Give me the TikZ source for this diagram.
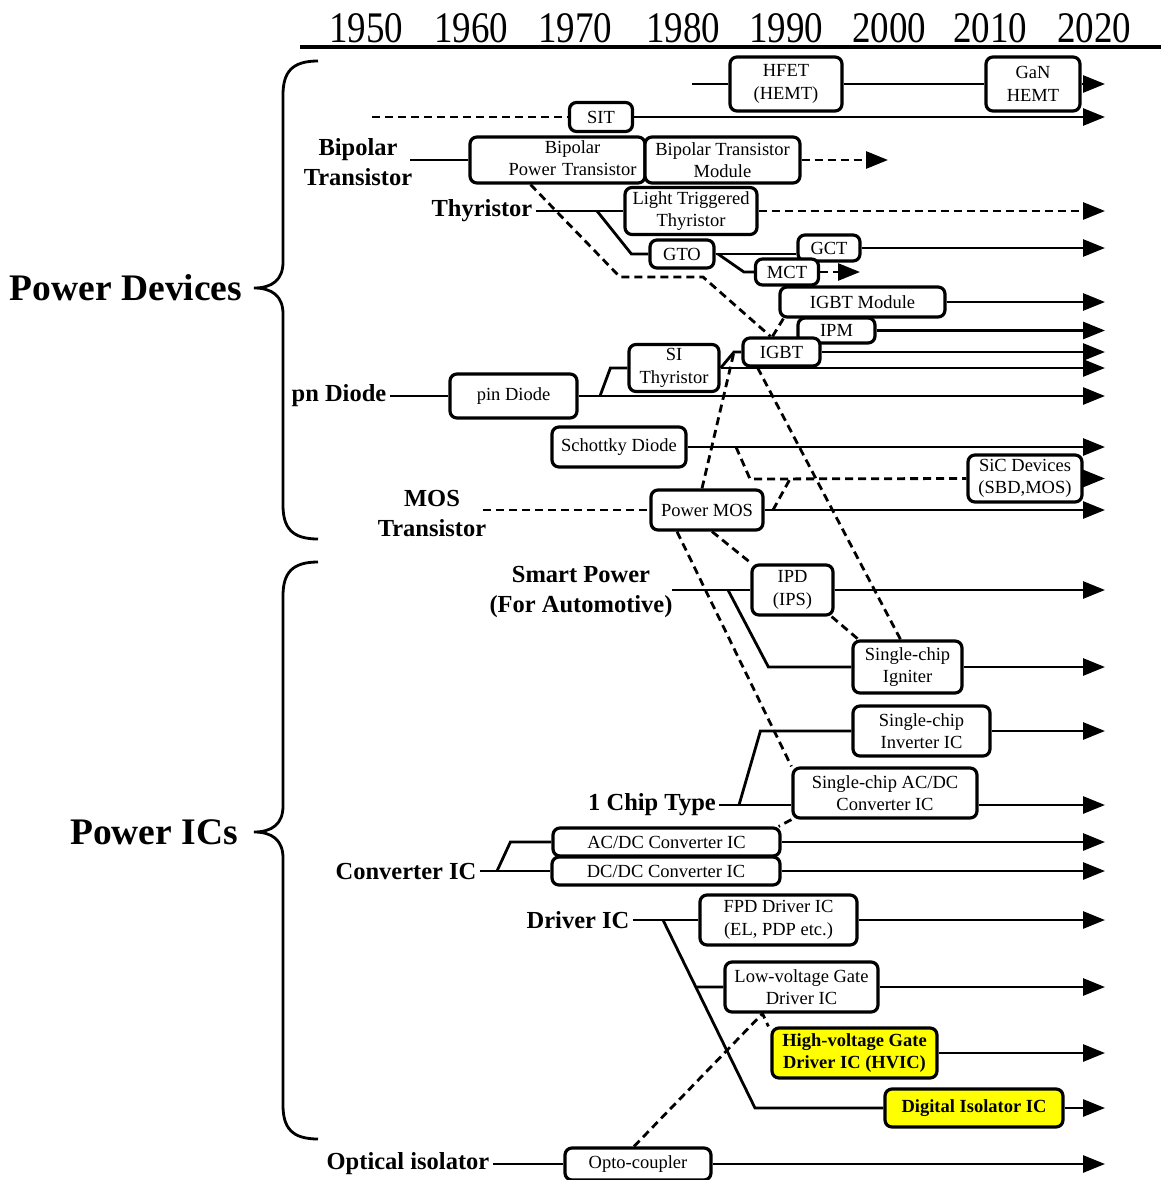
\documentclass[tikz,border=0pt]{standalone}
\usepackage{fontspec}
\setmainfont{Liberation Serif}
\usetikzlibrary{arrows.meta,backgrounds,calc}

\newlength{\du}
\setlength{\du}{1pt}
\definecolor{boxline}{rgb}{0.000000, 0.000000, 0.000000}
\definecolor{hilite}{rgb}{1.000000, 1.000000, 0.000000}

\tikzset{
  dev/.style={draw=boxline, line width=3.2\du, rounded corners=7\du, fill=white,
    align=center, inner sep=0pt, font=\fontsize{18.5}{22.5}\selectfont},
  hot/.style={dev, fill=hilite, font=\bfseries\fontsize{18.5}{22.5}\selectfont},
  grp/.style={align=center, font=\bfseries\fontsize{24.5}{30}\selectfont},
  big/.style={font=\bfseries\fontsize{37.5}{40}\selectfont},
  yr/.style={font=\fontsize{37}{40}\selectfont},
  link/.style={line width=2.8\du},
  hint/.style={line width=2.8\du, dash pattern=on 8\du off 5\du},
  trend/.style={link, -{Triangle[length=22pt,width=17pt]}},
  hinttrend/.style={hint, -{Triangle[length=22pt,width=17pt]}},
}

\begin{document}
\begin{tikzpicture}
\pgftransformxscale{1.000000}
\pgftransformyscale{-1.000000}
\useasboundingbox (0\du,0\du) rectangle (1161\du,1180\du);
\coordinate (tip) at (1105\du,0\du);
% time axis
\node[yr] (y1950) at (366\du,28\du) {\scalebox{1}[1.18]{1950}};
\node[yr] (y1960) at (471\du,28\du) {\scalebox{1}[1.18]{1960}};
\node[yr] (y1970) at (575\du,28\du) {\scalebox{1}[1.18]{1970}};
\node[yr] (y1980) at (683\du,28\du) {\scalebox{1}[1.18]{1980}};
\node[yr] (y1990) at (786\du,28\du) {\scalebox{1}[1.18]{1990}};
\node[yr] (y2000) at (889\du,28\du) {\scalebox{1}[1.18]{2000}};
\node[yr] (y2010) at (990\du,28\du) {\scalebox{1}[1.18]{2010}};
\node[yr] (y2020) at (1094\du,28\du) {\scalebox{1}[1.18]{2020}};
\draw[line width=4\du] (300\du,47\du) -- (1161\du,47\du);
% braces
\draw[link] (318\du,61\du) .. controls (292\du,61\du) and (283\du,72\du) .. (283\du,95\du) -- (283\du,262\du) .. controls (283\du,280\du) and (272\du,288\du) .. (254\du,288\du) .. controls (272\du,288\du) and (283\du,296\du) .. (283\du,314\du) -- (283\du,505\du) .. controls (283\du,528\du) and (292\du,539\du) .. (318\du,539\du);
\draw[link] (318\du,562\du) .. controls (292\du,562\du) and (283\du,573\du) .. (283\du,596\du) -- (283\du,806\du) .. controls (283\du,824\du) and (272\du,832\du) .. (254\du,832\du) .. controls (272\du,832\du) and (283\du,840\du) .. (283\du,858\du) -- (283\du,1105\du) .. controls (283\du,1128\du) and (292\du,1139\du) .. (318\du,1139\du);
\node[big] (pdev) at (126\du,288\du) {Power Devices};
\node[big] (pics) at (154\du,832\du) {Power ICs};
% group labels
\node[grp] (bip) at (358\du,162\du) {Bipolar\\Transistor};
\node[grp] (thy) at (482\du,211\du) {Thyristor};
\node[grp] (pn) at (339\du,396\du) {pn Diode};
\node[grp] (mos) at (432\du,514\du) {MOS\\Transistor};
\node[grp] (smart) at (581\du,592\du) {Smart Power\\(For Automotive)};
\node[grp] (chip) at (652\du,805\du) {1 Chip Type};
\node[grp] (conv) at (406\du,871\du) {Converter IC};
\node[grp] (drv) at (578\du,920\du) {Driver IC};
\node[grp] (opt) at (408\du,1164\du) {Optical isolator};
% devices
\node[dev, minimum width=112\du, minimum height=54\du] (hfet) at (786\du,84\du) {HFET\\(HEMT)};
\node[dev, minimum width=94\du, minimum height=54\du] (gan) at (1033\du,84\du) {GaN\\HEMT};
\node[dev, minimum width=63\du, minimum height=29\du] (sit) at (601\du,117\du) {SIT};
\node[dev, minimum width=175\du, minimum height=46\du, text width=158\du, align=right] (bpt) at (557.5\du,160\du) {\begin{tabular}{@{}c@{}}Bipolar\\Power Transistor\end{tabular}};
\node[dev, minimum width=155\du, minimum height=46\du] (btm) at (722.5\du,160\du) {Bipolar Transistor\\Module};
\node[dev, minimum width=132\du, minimum height=47\du] (ltt) at (691\du,211\du) {Light Triggered\\Thyristor};
\node[dev, minimum width=64\du, minimum height=28\du] (gto) at (682\du,254\du) {GTO};
\node[dev, minimum width=62\du, minimum height=26\du] (gct) at (829\du,248\du) {GCT};
\node[dev, minimum width=63\du, minimum height=26\du] (mct) at (787\du,272\du) {MCT};
\node[dev, minimum width=165\du, minimum height=30\du] (igbtm) at (862.5\du,302\du) {IGBT Module};
\node[dev, minimum width=77\du, minimum height=25\du] (ipm) at (836.5\du,330.5\du) {IPM};
\node[dev, minimum width=77\du, minimum height=28\du] (igbt) at (781.5\du,352\du) {IGBT};
\node[dev, minimum width=90\du, minimum height=47\du] (sith) at (674\du,368\du) {SI\\Thyristor};
\node[dev, minimum width=127\du, minimum height=44\du] (pin) at (513.5\du,396\du) {pin Diode};
\node[dev, minimum width=134\du, minimum height=40\du] (sbd) at (619\du,447\du) {Schottky Diode};
\node[dev, minimum width=114\du, minimum height=47\du] (sic) at (1025\du,478.5\du) {SiC Devices\\(SBD,MOS)};
\node[dev, minimum width=112\du, minimum height=40\du] (pmos) at (707\du,510\du) {Power MOS};
\node[dev, minimum width=81\du, minimum height=50\du] (ipd) at (792.5\du,590\du) {IPD\\(IPS)};
\node[dev, minimum width=109\du, minimum height=52\du] (ign) at (907.5\du,667\du) {Single-chip\\Igniter};
\node[dev, minimum width=137\du, minimum height=50\du] (inv) at (921.5\du,731\du) {Single-chip\\Inverter IC};
\node[dev, minimum width=184\du, minimum height=50\du] (scac) at (885\du,793\du) {Single-chip AC/DC\\Converter IC};
\node[dev, minimum width=227\du, minimum height=28\du] (acdc) at (666.5\du,842\du) {AC/DC Converter IC};
\node[dev, minimum width=228\du, minimum height=28\du] (dcdc) at (666\du,871\du) {DC/DC Converter IC};
\node[dev, minimum width=157\du, minimum height=50\du] (fpd) at (778.5\du,920\du) {FPD Driver IC\\(EL, PDP etc.)};
\node[dev, minimum width=153\du, minimum height=50\du] (lvgd) at (801.5\du,987\du) {Low-voltage Gate\\Driver IC};
\node[hot, minimum width=165\du, minimum height=50\du] (hvic) at (854.5\du,1053\du) {High-voltage Gate\\Driver IC (HVIC)};
\node[hot, minimum width=178\du, minimum height=38\du] (diso) at (974\du,1108\du) {Digital Isolator IC};
\node[dev, minimum width=146\du, minimum height=32\du] (opto) at (638\du,1164\du) {Opto-coupler};

\begin{pgfonlayer}{background}
% power devices
\coordinate (hfetin) at (692\du,84\du);
\draw[link] (hfetin) -- (hfet.west);
\draw[link] (hfet.east) -- (gan.west);
\draw[trend] (gan.east) -- (gan.east -| tip);
\coordinate (sitin) at (372\du,117\du);
\draw[hint] (sitin) -- (sit.west);
\draw[trend] (sit.east) -- (sit.east -| tip);
\coordinate (bipin) at (410\du,160\du);
\draw[link] (bipin) -- (bpt.west);
\coordinate (btmend) at (888\du,160\du);
\draw[hinttrend] (btm.east) -- (btmend);
\draw[link] (thy.east) -- (ltt.west);
\draw[hinttrend] (ltt.east) -- (ltt.east -| tip);
\coordinate (thyj) at (597\du,211\du);
\draw[link] (thyj) -- ([xshift=-17\du]gto.west) -- (gto.west);
\draw[link] (gto.east) -- (gto.east -| gct.west);
\draw[trend] (gct.east) -- (gct.east -| tip);
\coordinate (gtoj) at (718\du,254\du);
\draw[link] (gtoj) -- ([xshift=-10\du]mct.west) -- (mct.west);
\coordinate (mctend) at (860\du,272\du);
\draw[hinttrend] (mct.east) -- (mctend);
\draw[trend] (igbtm.east) -- (igbtm.east -| tip);
\draw[trend] (ipm.east) -- (ipm.east -| tip);
\draw[trend] (igbt.east) -- (igbt.east -| tip);
\coordinate (igbtj) at (734\du,352\du);
\draw[link] (sith.east) -- (igbtj) -- (igbt.west);
\draw[trend] (sith.east) -- (sith.east -| tip);
\draw[link] (pn.east) -- (pin.west);
\draw[trend] (pin.east) -- (pin.east -| tip);
\coordinate (pinj) at (600\du,396\du);
\draw[link] (pinj) -- ([xshift=-17\du]sith.west) -- (sith.west);
\draw[trend] (sbd.east) -- (sbd.east -| tip);
\coordinate (sbdj) at (736\du,447\du);
\coordinate (sicj) at (750\du,479\du);
\draw[hint] (sbdj) -- (sicj) -- (sic.west);
\draw[trend] (sic.east) -- (sic.east -| tip);
\coordinate (mosin) at (483\du,510\du);
\draw[hint] (mosin) -- (pmos.west);
\draw[trend] (pmos.east) -- (pmos.east -| tip);
\coordinate (pmosj) at (773\du,510\du);
\coordinate (sicm) at (790\du,479\du);
\draw[hint] (pmosj) -- (sicm);
% technology transfer
\draw[hint] ([xshift=-27\du]bpt.south) -- (620\du,277\du) -- (703\du,277\du) -- ([xshift=-11\du]igbt.north);
\draw[hint] ([xshift=-9\du]igbt.north) -- ([xshift=5\du]igbtm.south west);
\draw[hint] ([xshift=-24\du]igbt.south) -- ([xshift=-7\du]ign.north);
\draw[hint] ([xshift=-5\du]pmos.north) -- (igbtj);
\draw[hint] ([xshift=5\du]pmos.south) -- ([xshift=1\du]ipd.north west);
\draw[hint] ([xshift=-30\du]pmos.south) -- (scac.north west);
\draw[hint] ([xshift=-3\du]ipd.south east) -- ([xshift=7\du]ign.north west);
\draw[hint] (scac.south west) -- ([xshift=-3\du]acdc.north east);
% power ICs
\coordinate (smartin) at (672\du,590\du);
\draw[link] (smartin) -- (ipd.west);
\draw[trend] (ipd.east) -- (ipd.east -| tip);
\coordinate (smartj) at (728\du,590\du);
\draw[link] (smartj) -- ([xshift=-83\du]ign.west) -- (ign.west);
\draw[trend] (ign.east) -- (ign.east -| tip);
\draw[link] (chip.east) -- (chip.east -| scac.west);
\draw[trend] (scac.east |- chip.east) -- (chip.east -| tip);
\coordinate (chipj) at (739\du,805\du);
\draw[link] (chipj) -- ([xshift=-91\du]inv.west) -- (inv.west);
\draw[trend] (inv.east) -- (inv.east -| tip);
\draw[link] (conv.east) -- (dcdc.west);
\coordinate (convj) at (497\du,871\du);
\draw[link] (convj) -- ([xshift=-41\du]acdc.west) -- (acdc.west);
\draw[trend] (acdc.east) -- (acdc.east -| tip);
\draw[trend] (dcdc.east) -- (dcdc.east -| tip);
\draw[link] (drv.east) -- (fpd.west);
\draw[trend] (fpd.east) -- (fpd.east -| tip);
\coordinate (drvj) at (663\du,920\du);
\coordinate (drvb) at (755\du,1108\du);
\draw[link] (drvj) -- (drvb) -- (diso.west);
\draw[link] ($(drvj)!0.356!(drvb)$) -- (lvgd.west);
\draw[trend] (lvgd.east) -- (lvgd.east -| tip);
\draw[trend] (hvic.east) -- (hvic.east -| tip);
\draw[trend] (diso.east) -- (diso.east -| tip);
\draw[link] (opt.east) -- (opto.west);
\draw[trend] (opto.east) -- (opto.east -| tip);
\draw[hint] ([xshift=-4\du]opto.north) -- ([xshift=-39\du]lvgd.south) -- ([xshift=-2\du]hvic.north west);
\end{pgfonlayer}
\end{tikzpicture}
\end{document}
